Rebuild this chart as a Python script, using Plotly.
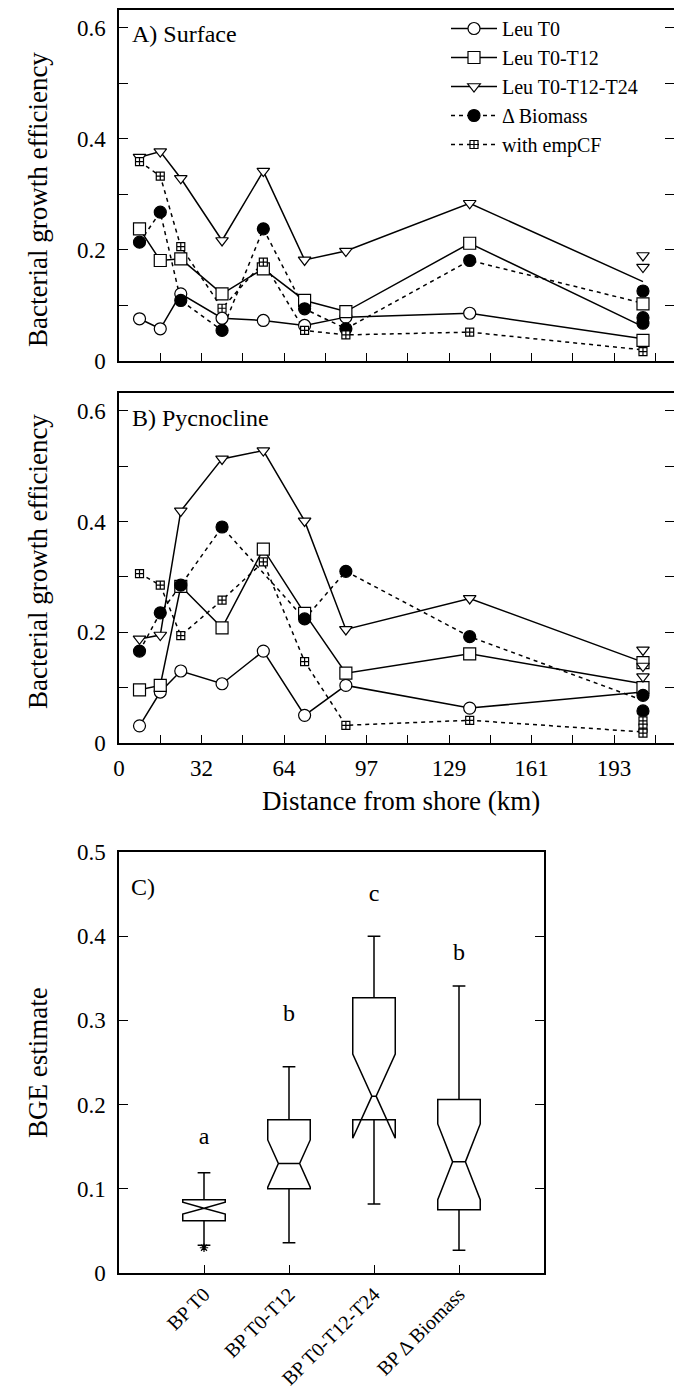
import plotly.graph_objects as go

W, H = 674, 1399
FONT = "Liberation Serif"

# ---------------- data ----------------
dist_km = [8.0, 16.1, 24.1, 40.2, 56.3, 72.4, 88.5, 136.8, 204.4]
x_tick_km = [0, 32.19, 64.37, 96.56, 128.75, 160.93, 193.12]
x_tick_text = ["0", "32", "64", "97", "129", "161", "193"]
y_tick_vals = [0, 0.1, 0.2, 0.3, 0.4, 0.5, 0.6]
y_tick_text = ["0", "", "0.2", "", "0.4", "", "0.6"]

series_names = ["Leu T0", "Leu T0-T12", "Leu T0-T12-T24", "\u0394 Biomass", "with empCF"]

# Panel A (surface): values at each station (line), extra markers at the last station
A_leu_t0 = [0.076, 0.058, 0.121, 0.077, 0.073, 0.064, 0.079, 0.086, 0.040]
A_leu_t0_last = []
A_t12 = [0.238, 0.181, 0.184, 0.121, 0.166, 0.109, 0.089, 0.212, 0.062]
A_t12_last = [0.103, 0.037]
A_t24 = [0.367, 0.377, 0.329, 0.217, 0.342, 0.182, 0.198, 0.284, 0.143]
A_t24_last = [0.190, 0.169]
A_dbio = [0.214, 0.268, 0.109, 0.055, 0.238, 0.094, 0.058, 0.181, 0.104]
A_dbio_last = [0.126, 0.078, 0.068]
A_empcf = [0.359, 0.333, 0.206, 0.095, 0.178, 0.055, 0.047, 0.052, 0.020]
A_empcf_last = [0.017]

# Panel B (pycnocline)
B_leu_t0 = [0.031, 0.092, 0.130, 0.107, 0.166, 0.050, 0.104, 0.063, 0.092]
B_leu_t0_last = []
B_t12 = [0.096, 0.104, 0.283, 0.208, 0.350, 0.234, 0.126, 0.161, 0.107]
B_t12_last = [0.145, 0.100]
B_t24 = [0.188, 0.195, 0.419, 0.513, 0.528, 0.401, 0.205, 0.261, 0.146]
B_t24_last = [0.168, 0.139, 0.120]
B_dbio = [0.166, 0.235, 0.285, 0.390, None, 0.224, 0.310, 0.192, 0.077]
B_dbio_last = [0.086, 0.058]
B_empcf = [0.306, 0.285, 0.194, 0.258, 0.327, 0.147, 0.032, 0.041, 0.020]
B_empcf_last = [0.040, 0.027, 0.018]

# Panel C (box plots)
C_categories = ["BP T0", "BP T0-T12", "BP T0-T12-T24", "BP \u0394 Biomass"]
C_lowerfence = [0.033, 0.036, 0.082, 0.027]
C_q1 = [0.062, 0.100, 0.182, 0.075]
C_median = [0.077, 0.130, 0.210, 0.132]
C_q3 = [0.087, 0.182, 0.327, 0.206]
C_upperfence = [0.119, 0.245, 0.400, 0.341]
C_notchspan = [0.007, 0.028, 0.050, 0.045]
C_outlier_cat = ["BP T0"]
C_outlier_y = [0.030]
C_letters = ["a", "b", "c", "b"]
C_letter_y = [0.160, 0.306, 0.449, 0.379]
C_y_ticks = [0, 0.1, 0.2, 0.3, 0.4, 0.5]
C_y_text = ["0", "0.1", "0.2", "0.3", "0.4", "0.5"]

# ---------------- styles ----------------
styles = [
    dict(symbol="circle", color="white", dash="solid", size=12),
    dict(symbol="square", color="white", dash="solid", size=12),
    dict(symbol="triangle-down", color="white", dash="solid", size=11),
    dict(symbol="circle", color="black", dash="4px,4px", size=12),
    dict(symbol="square-cross", color="white", dash="4px,4px", size=8),
]

fig = go.Figure()


def add_panel(series, xa, ya):
    for (vals, last), st in zip(series, styles):
        fig.add_trace(go.Scatter(
            x=dist_km, y=vals, mode="lines", connectgaps=True,
            line=dict(color="black", width=1.5, dash=st["dash"]),
            xaxis=xa, yaxis=ya, showlegend=False, hoverinfo="skip"))
    for (vals, last), st in zip(series, styles):
        mx = [d for d, v in zip(dist_km[:8], vals[:8]) if v is not None] + [dist_km[8]] * len(last)
        my = [v for v in vals[:8] if v is not None] + list(last)
        fig.add_trace(go.Scatter(
            x=mx, y=my, mode="markers",
            marker=dict(symbol=st["symbol"], size=st["size"], color=st["color"],
                        line=dict(color="black", width=1.2)),
            xaxis=xa, yaxis=ya, showlegend=False))


add_panel([(A_leu_t0, A_leu_t0_last), (A_t12, A_t12_last), (A_t24, A_t24_last),
           (A_dbio, A_dbio_last), (A_empcf, A_empcf_last)], "x", "y")
add_panel([(B_leu_t0, B_leu_t0_last), (B_t12, B_t12_last), (B_t24, B_t24_last),
           (B_dbio, B_dbio_last), (B_empcf, B_empcf_last)], "x2", "y2")

# legend entries
for name, st in zip(series_names, styles):
    fig.add_trace(go.Scatter(
        x=[None], y=[None], mode="lines+markers", name=name,
        line=dict(color="black", width=1.5, dash=st["dash"]),
        marker=dict(symbol=st["symbol"], size=st["size"], color=st["color"],
                    line=dict(color="black", width=1.2)),
        xaxis="x", yaxis="y"))

# box plots
notch_w = [0.5, 0.25, 0.45, 0.35]
for i, cat in enumerate(C_categories):
    fig.add_trace(go.Box(
        x=[cat], q1=[C_q1[i]], median=[C_median[i]], q3=[C_q3[i]],
        lowerfence=[C_lowerfence[i]], upperfence=[C_upperfence[i]],
        notchspan=[C_notchspan[i]], notched=True, notchwidth=notch_w[i],
        width=0.5, whiskerwidth=0.3, fillcolor="white",
        line=dict(color="black", width=1.5), boxpoints=False,
        xaxis="x3", yaxis="y3", showlegend=False, hoverinfo="skip"))

fig.add_trace(go.Scatter(
    x=C_outlier_cat, y=C_outlier_y, mode="markers",
    marker=dict(symbol="asterisk-open", size=7, color="black", line=dict(color="black", width=1.2)),
    xaxis="x3", yaxis="y3", showlegend=False))

fig.add_trace(go.Scatter(
    x=C_categories, y=C_letter_y, mode="text", text=C_letters,
    textfont=dict(family=FONT, size=24, color="black"),
    xaxis="x3", yaxis="y3", showlegend=False))


def px(x):
    return x / W


def py(y):
    return 1 - y / H


common_x = dict(range=[0, 216.5], tickmode="array", tickvals=x_tick_km, ticktext=x_tick_text,
                ticks="inside", ticklen=8, tickwidth=1.2, tickcolor="black",
                minor=dict(tick0=0, dtick=16.0934, ticks="inside", ticklen=8, tickwidth=1.2,
                           tickcolor="black"),
                showline=True, linecolor="black", linewidth=1.5, mirror=True,
                showgrid=False, zeroline=False,
                tickfont=dict(family=FONT, size=23, color="black"))
common_y = dict(range=[0, 0.632], tickmode="array", tickvals=y_tick_vals, ticktext=y_tick_text,
                ticks="inside", ticklen=9, tickwidth=1.2, tickcolor="black",
                showline=True, linecolor="black", linewidth=1.5, mirror="ticks",
                showgrid=False, zeroline=False, ticklabelstandoff=7,
                tickfont=dict(family=FONT, size=23, color="black"))

fig.update_layout(
    width=W, height=H, margin=dict(l=0, r=0, t=0, b=0, autoexpand=False),
    paper_bgcolor="white", plot_bgcolor="white",
    font=dict(family=FONT, color="black"),
    xaxis=dict(common_x, domain=[px(119), 1.0], anchor="y", showticklabels=False),
    yaxis=dict(common_y, domain=[py(361), py(10)], anchor="x"),
    xaxis2=dict(common_x, domain=[px(119), 1.0], anchor="y2", ticklabelstandoff=4),
    yaxis2=dict(common_y, domain=[py(743), py(393)], anchor="x2"),
    xaxis3=dict(domain=[px(119), px(544)], anchor="y3", type="category",
                categoryorder="array", categoryarray=C_categories, range=[-1, 4],
                ticks="inside", ticklen=8, tickwidth=1.2, tickcolor="black",
                showline=True, linecolor="black", linewidth=1.5, mirror=True,
                showgrid=False, zeroline=False, tickangle=-45, ticklabelstandoff=0,
                tickfont=dict(family=FONT, size=20, color="black")),
    yaxis3=dict(domain=[py(1273), py(852)], anchor="x3", range=[0, 0.5],
                tickmode="array", tickvals=C_y_ticks, ticktext=C_y_text,
                ticks="inside", ticklen=9, tickwidth=1.2, tickcolor="black",
                showline=True, linecolor="black", linewidth=1.5, mirror="ticks",
                showgrid=False, zeroline=False, ticklabelstandoff=7,
                tickfont=dict(family=FONT, size=23, color="black")),
    legend=dict(x=px(446), y=py(9), xanchor="left", yanchor="top",
                bgcolor="rgba(0,0,0,0)", borderwidth=0, itemwidth=46,
                font=dict(family=FONT, size=20, color="black"), tracegroupgap=0),
    showlegend=True,
)

ann = [
    dict(text="A) Surface", x=px(130), y=py(34), xanchor="left", yanchor="middle", size=24),
    dict(text="B) Pycnocline", x=px(130), y=py(418), xanchor="left", yanchor="middle", size=24),
    dict(text="C)", x=px(129), y=py(887), xanchor="left", yanchor="middle", size=24),
    dict(text="Distance from shore (km)", x=px(401), y=py(801), xanchor="center", yanchor="middle", size=27),
]
for a in ann:
    fig.add_annotation(text=a["text"], x=a["x"], y=a["y"], xref="paper", yref="paper",
                       xanchor=a["xanchor"], yanchor=a["yanchor"], showarrow=False,
                       font=dict(family=FONT, size=a["size"], color="black"))
for t, yc in [("Bacterial growth efficiency", 200), ("Bacterial growth efficiency", 562),
              ("BGE estimate", 1063)]:
    fig.add_annotation(text=t, x=px(38), y=py(yc), xref="paper", yref="paper",
                       xanchor="center", yanchor="middle", textangle=-90, showarrow=False,
                       font=dict(family=FONT, size=27, color="black"))

fig.write_html("out.html", config={"displayModeBar": False},
               post_script="document.body.style.margin='0';document.body.style.overflow='hidden';")
